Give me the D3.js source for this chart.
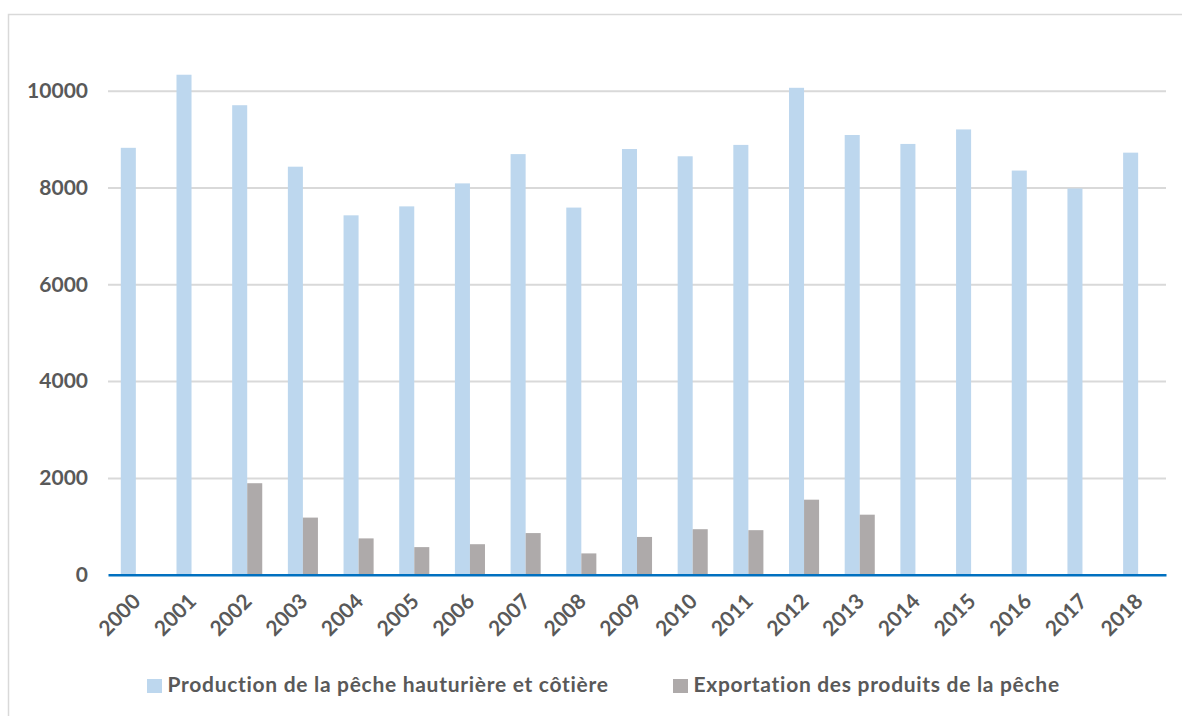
<!DOCTYPE html>
<meta charset="utf-8">
<style>
  body { margin: 0; background: #fff; }
  text { font-family: Lato, "Open Sans", sans-serif; font-weight: bold; fill: #595959; }
</style>
<script src="https://d3js.org/d3.v7.min.js"></script>
<div id="my_dataviz"></div>
<script>
// data
var years = ["2000","2001","2002","2003","2004","2005","2006","2007","2008","2009",
             "2010","2011","2012","2013","2014","2015","2016","2017","2018"];
var production = [8820,10330,9700,8430,7425,7610,8085,8690,7585,8795,
                  8645,8880,10060,9085,8900,9200,8350,7980,8720];
var exportation = [null,null,1890,1180,750,570,630,860,440,780,
                   940,920,1550,1240,null,null,null,null,null];
var yTicks = [0,2000,4000,6000,8000,10000];
var seriesNames = ["Production de la pêche hauturière et côtière", "Exportation des produits de la pêche"];
var colors = ["#BDD7EE", "#AEAAAA"];

var W = 1182, H = 716;
var margin = {top: 90.7, right: 16, bottom: 141.3, left: 108},
    width = W - margin.left - margin.right,
    height = H - margin.top - margin.bottom;

var root = d3.select("#my_dataviz").append("svg")
    .attr("width", W).attr("height", H);

// chart frame (right and bottom edges fall outside the picture)
root.append("rect")
    .attr("x", 8.5).attr("y", 14.5)
    .attr("width", W + 20).attr("height", H + 20)
    .attr("fill", "none").attr("stroke", "#D9D9D9").attr("stroke-width", 1.5);

var svg = root.append("g")
    .attr("transform", "translate(" + margin.left + "," + margin.top + ")");

var x = d3.scaleBand().domain(years).range([0, width]).paddingInner(0.46).paddingOuter(0.23);
var sub = d3.scaleBand().domain([0, 1]).range([0, x.bandwidth()]);
var y = d3.scaleLinear().domain([0, 10000]).range([height, 0]);

// gridlines + y labels
var yAxis = svg.append("g")
    .call(d3.axisLeft(y).tickValues(yTicks).tickSize(-width).tickPadding(20).tickFormat(d3.format("d")));
yAxis.select(".domain").remove();
yAxis.selectAll(".tick line").attr("stroke", "#D9D9D9").attr("stroke-width", 2)
    .filter(function(d) { return d === 0; }).remove();
yAxis.selectAll(".tick text").style("font-size", "21px").attr("fill", "#595959");

// bars
var groups = svg.selectAll("g.year")
  .data(years)
  .enter().append("g")
    .attr("class", "year")
    .attr("transform", function(d) { return "translate(" + x(d) + ",0)"; });

groups.selectAll("rect")
  .data(function(d, i) { return [production[i], exportation[i]]; })
  .enter().append("rect")
    .filter(function(v) { return v != null; })
    .attr("x", function(v, j) { return sub(j); })
    .attr("y", function(v) { return y(v); })
    .attr("width", sub.bandwidth())
    .attr("height", function(v) { return height - y(v); })
    .attr("fill", function(v, j) { return colors[j]; });

groups.selectAll("rect").filter(function(v) { return v == null; }).remove();

// x axis baseline
var xAxis = svg.append("g")
    .attr("transform", "translate(0," + height + ")")
    .call(d3.axisBottom(x).tickSize(0).tickPadding(0));
xAxis.select(".domain").attr("stroke", "#0070C0").attr("stroke-width", 2.5);
xAxis.selectAll(".tick text")
    .style("font-size", "21px")
    .attr("fill", "#595959")
    .attr("text-anchor", "end")
    .attr("dy", "0")
    .attr("transform", "translate(6,28) rotate(-45)");

// legend
var legend = root.append("g");
var legendX = [147, 673];
seriesNames.forEach(function(name, i) {
  legend.append("rect")
      .attr("x", legendX[i]).attr("y", 679)
      .attr("width", 15).attr("height", 14)
      .attr("fill", colors[i]);
  legend.append("text")
      .attr("x", legendX[i] + 20.5).attr("y", 692)
      .style("font-size", "21px")
      .style("letter-spacing", "0.7px")
      .text(name);
});
</script>
